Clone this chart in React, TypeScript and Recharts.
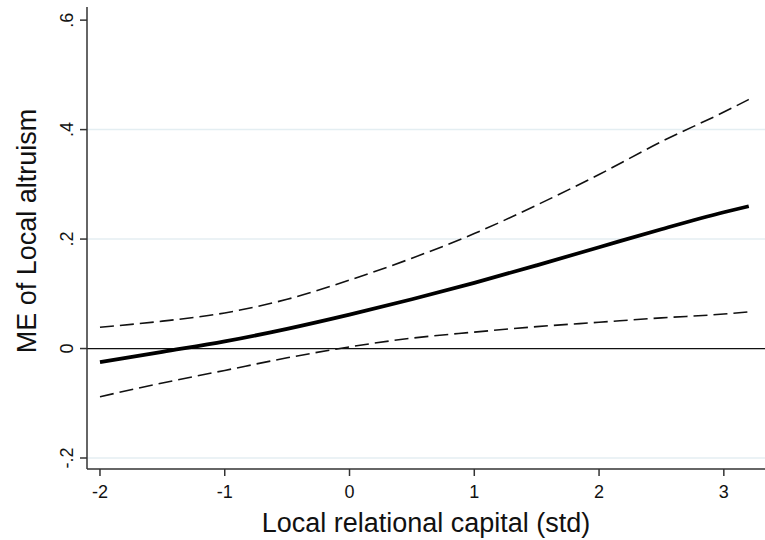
import React from "react";
import {
  LineChart,
  Line,
  XAxis,
  YAxis,
  ReferenceLine,
} from "recharts";

// x grid of the marginal-effect curve
const xValues = [-2, -1.5, -1, -0.5, 0, 0.5, 1, 1.5, 2, 2.5, 3, 3.2];
const meValues = [-0.025, -0.006, 0.013, 0.036, 0.062, 0.09, 0.12, 0.152, 0.185, 0.218, 0.249, 0.26];
const upperValues = [0.039, 0.05, 0.065, 0.09, 0.125, 0.165, 0.21, 0.262, 0.318, 0.378, 0.432, 0.455];
const lowerValues = [-0.088, -0.063, -0.04, -0.017, 0.003, 0.019, 0.03, 0.04, 0.048, 0.056, 0.063, 0.067];

const xTicks = [-2, -1, 0, 1, 2, 3];
const yTicks = [-0.2, 0, 0.2, 0.4, 0.6];
const yTickLabels = ["-.2", "0", ".2", ".4", ".6"];
const gridLevels = [-0.2, 0.2, 0.4];

const FONT = "'Liberation Sans', Arial, sans-serif";

const data = xValues.map((x, i) => ({
  x,
  me: meValues[i],
  upper: upperValues[i],
  lower: lowerValues[i],
}));

function YTick({ x, y, payload }: any) {
  const idx = yTicks.indexOf(payload.value);
  const label = idx >= 0 ? yTickLabels[idx] : String(payload.value);
  const bx = x - 5;
  return (
    <text
      x={bx}
      y={y}
      transform={`rotate(-90, ${bx}, ${y})`}
      textAnchor="middle"
      fontSize={18}
      fontFamily={FONT}
      fill="#111"
    >
      {label}
    </text>
  );
}

function YTitle() {
  return (
    <text
      x={36}
      y={231}
      transform="rotate(-90, 36, 231)"
      textAnchor="middle"
      fontSize={27}
      fontFamily={FONT}
      fill="#111"
    >
      ME of Local altruism
    </text>
  );
}

export default function App() {
  return (
    <div style={{ position: "absolute", left: 0, top: 0, background: "#fff" }}>
      <LineChart
        width={765}
        height={540}
        data={data}
        margin={{ top: 7, right: 0, bottom: 0, left: 0 }}
      >
        {gridLevels.map((g) => (
          <ReferenceLine key={g} y={g} stroke="#e4eef2" strokeWidth={1.5} />
        ))}
        <ReferenceLine y={0} stroke="#111" strokeWidth={1.2} />
        <XAxis
          dataKey="x"
          type="number"
          domain={[-2.104, 3.33]}
          allowDataOverflow
          ticks={xTicks}
          tickSize={7}
          tickMargin={9}
          height={71}
          stroke="#333"
          strokeWidth={1.5}
          tick={{ fontSize: 18, fontFamily: FONT, fill: "#111" }}
          label={{
            value: "Local relational capital (std)",
            position: "insideBottom",
            offset: 8,
            fontSize: 27,
            fontFamily: FONT,
            fill: "#111",
          }}
        />
        <YAxis
          type="number"
          domain={[-0.2201, 0.624]}
          allowDataOverflow
          ticks={yTicks}
          tickSize={7}
          width={87}
          stroke="#333"
          strokeWidth={1.5}
          tick={<YTick />}
          label={<YTitle />}
        />
        <Line
          dataKey="upper"
          type="monotone"
          stroke="#111"
          strokeWidth={1.6}
          strokeDasharray="14 6"
          dot={false}
          isAnimationActive={false}
        />
        <Line
          dataKey="lower"
          type="monotone"
          stroke="#111"
          strokeWidth={1.6}
          strokeDasharray="14 6"
          dot={false}
          isAnimationActive={false}
        />
        <Line
          dataKey="me"
          type="monotone"
          stroke="#000"
          strokeWidth={3.8}
          dot={false}
          isAnimationActive={false}
        />
      </LineChart>
    </div>
  );
}
